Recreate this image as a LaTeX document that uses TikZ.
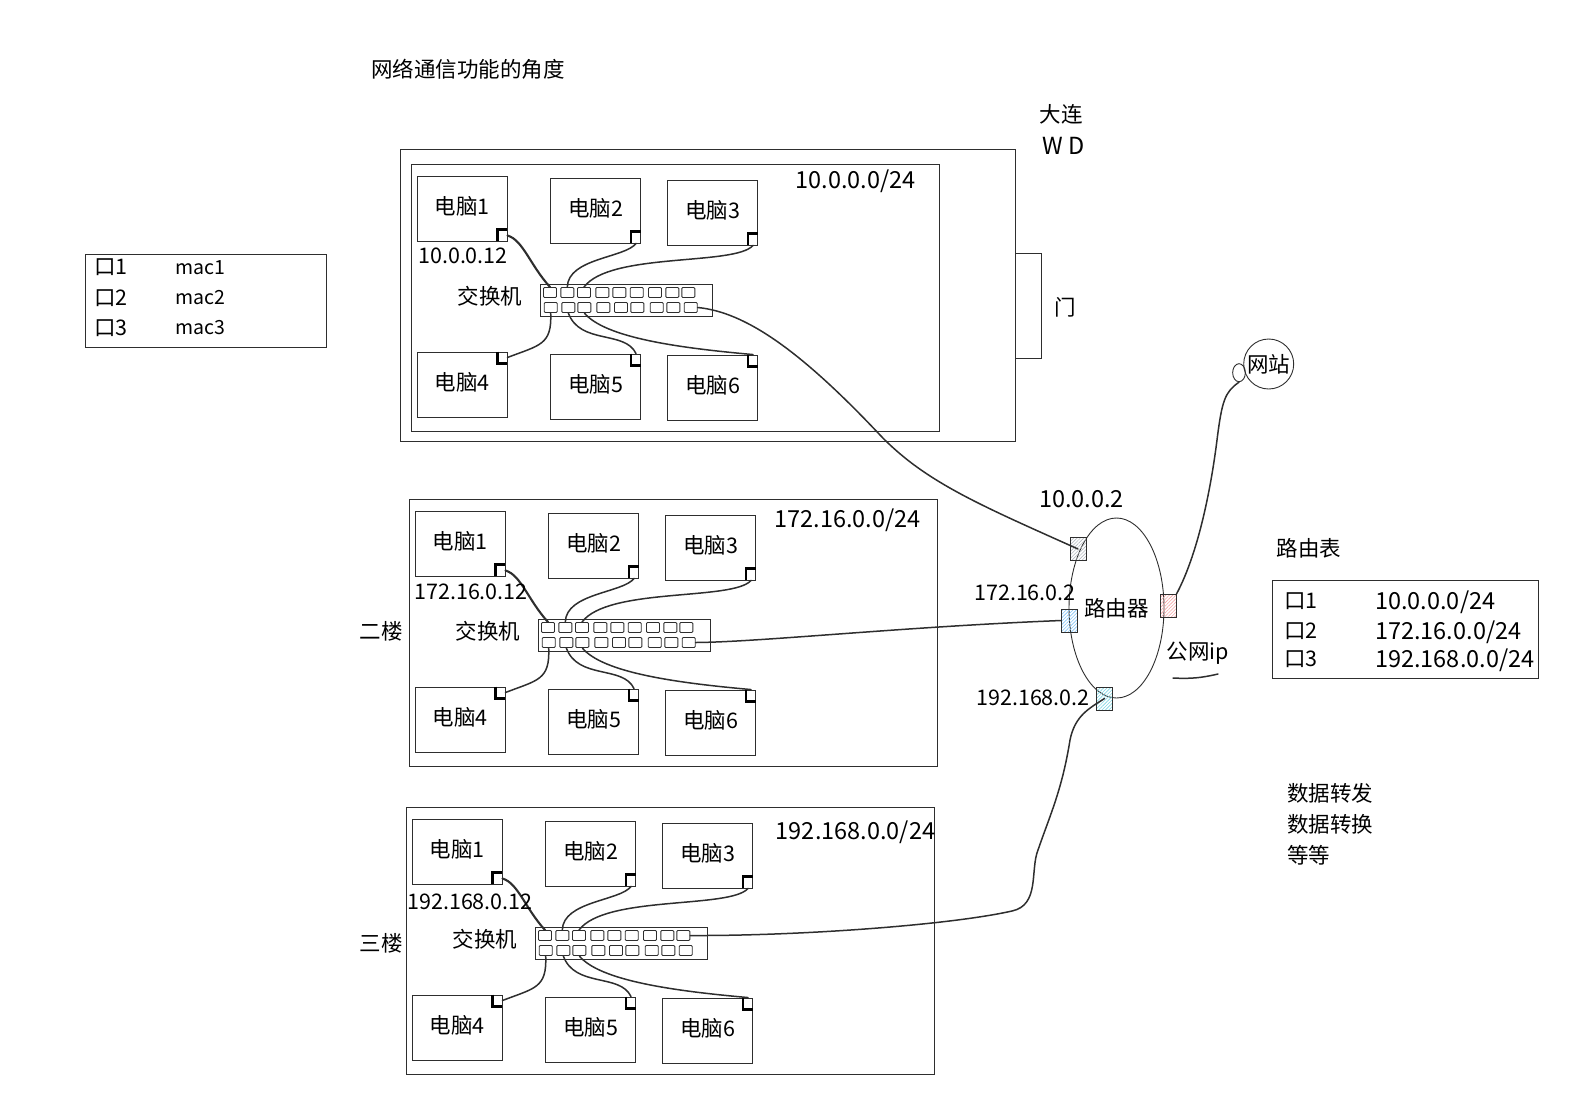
\documentclass[tikz,border=0pt]{standalone}
\usepackage{fontspec}
\setmainfont{Noto Sans CJK SC}
\usetikzlibrary{
    shapes.geometric,
    patterns.meta,
    positioning,
    calc
}
\definecolor{inkgray}{HTML}{2E2E2E}
\definecolor{hatchgray}{HTML}{B4BAC0}
\definecolor{hatchblue}{HTML}{84C4F5}
\definecolor{hatchred}{HTML}{F5A3A3}
\definecolor{hatchcyan}{HTML}{7FD6E4}

\begin{document}
\begin{tikzpicture}[
    x=1pt, y=-1pt,
    txt/.style={font=\fontsize{21.5}{25}\selectfont, text=black, inner sep=0pt},
    small/.style={font=\fontsize{19.5}{23}\selectfont, text=black, inner sep=0pt},
    wide/.style={font=\fontsize{23.5}{28}\selectfont, text=black, inner sep=0pt},
    box/.style={rectangle, draw=inkgray, line width=0.9pt, inner sep=0pt},
    pc/.style={box, txt, text depth=6pt, minimum width=90pt, minimum height=65pt},
    port/.style={box, minimum width=9pt, minimum height=11pt},
    slot/.style={box, rounded corners=1pt, minimum width=13pt, minimum height=10pt},
    hatch/.style={box, minimum width=16pt, minimum height=23pt,
        pattern={Lines[angle=45,distance=2.4pt,line width=0.6pt]}, pattern color=#1},
    wire/.style={draw=inkgray, line width=1.5pt, line cap=round},
    edge/.style={draw=black, line width=2.6pt}
]
    \useasboundingbox (0,0) rectangle (1587,1106);

    % Building
    \node (title) [txt] at (468,69) {网络通信功能的角度};
    \node (outer) [box, minimum width=615pt, minimum height=292.5pt] at (707.5,295.25) {};
    \node (door) [box, minimum width=26pt, minimum height=105pt] at (1028,305.5) {};
    \node (doorlabel) [txt] at (1065,307) {门};
    \node (city) [txt] at (1061,114) {大连};
    \node (room) [wide] at (1064,146) {W D};
    \node (floor2) [txt] at (381,631) {二楼};
    \node (floor3) [txt] at (381,943) {三楼};

    % Floors
    \foreach \f/\sx/\sy in {a/0/0, b/-2/335, c/-5/643} {
    \begin{scope}[shift={(\sx,\sy)}]
        \node (frame\f) [box, minimum width=528pt, minimum height=267pt] at (675,297.5) {};
        \node (pc1\f) [pc] at (462,208.5) {电脑1};
        \node (pc2\f) [pc] at (595.5,210.5) {电脑2};
        \node (pc3\f) [pc] at (712.5,212.5) {电脑3};
        \node (pc4\f) [pc] at (462,384.5) {电脑4};
        \node (pc5\f) [pc] at (595.5,386.5) {电脑5};
        \node (pc6\f) [pc] at (712.5,387.5) {电脑6};
        \node (swlabel\f) [txt] at (490,296) {交换机};
        \node (sw\f) [box, minimum width=172pt, minimum height=32pt] at (626,300) {};

        % Switch slots
        \foreach \x [count=\i] in {550,567.3,584,602.3,619.3,636.7,655,672.3,688.3}
            \node (up\i\f) [slot] at (\x,292.5) {};
        \foreach \x [count=\i] in {550.7,568.3,584.3,603.3,621,637.3,656.7,673.3,690.7}
            \node (lo\i\f) [slot] at (\x,307.5) {};

        % Ports of the computers
        \foreach \n in {1,2,3} {
            \node (port\n\f) [port, anchor=south east] at (pc\n\f.south east) {};
            \draw [edge] (port\n\f.south west) |- (port\n\f.north east);
        }
        \foreach \n in {4,5,6} {
            \node (port\n\f) [port, anchor=north east] at (pc\n\f.north east) {};
            \draw [edge] (port\n\f.north west) |- (port\n\f.south east);
        }

        % Cables
        \draw [wire, line width=2.1pt] (port1\f.east) .. controls (523,240) and (530,265) .. (up1\f.north);
        \draw [wire] (port2\f.south) .. controls (625,258) and (568,258) .. (up2\f.north);
        \draw [wire] (port3\f.south) .. controls (735,266) and (610,252) .. (up3\f.north);
        \draw [wire] (lo1\f.south) .. controls (552,345) and (540,345) .. (port4\f.east);
        \draw [wire] (lo2\f.south) .. controls (580,345) and (625,330) .. (port5\f.north);
        \draw [wire] (lo3\f.south) .. controls (605,338) and (680,348) .. (port6\f.north);
    \end{scope}
    }

    % Addresses
    \node (ip1) [txt] at (463,256) {10.0.0.12};
    \node (ip2) [txt] at (471,592) {172.16.0.12};
    \node (ip3) [txt] at (470,902) {192.168.0.12};
    \node (net1) [wide] at (855.5,181) {10.0.0.0/24};
    \node (net2) [wide] at (847.5,520) {172.16.0.0/24};
    \node (net3) [wide] at (855.5,832) {192.168.0.0/24};

    % Router
    \node (router) [box, txt, ellipse, minimum width=95pt, minimum height=180pt] at (1116.5,608) {路由器};
    \node (rgray) [hatch=hatchgray] at (1078,549) {};
    \node (rblue) [hatch=hatchblue] at (1069.5,620.5) {};
    \node (rred) [hatch=hatchred] at (1168,606) {};
    \node (rcyan) [hatch=hatchcyan] at (1104.5,698.5) {};
    \node (gw1) [wide] at (1081.5,499) {10.0.0.2};
    \node (gw2) [txt] at (1025,593) {172.16.0.2};
    \node (gw3) [txt] at (1033,698) {192.168.0.2};
    \node (pubip) [txt] at (1198,653) {公网ip};
    \coordinate (ulstart) at (1173,678);
    \coordinate (ulend) at (1218,674);
    \draw [wire] (ulstart) to [bend right=8] (ulend);

    % Website
    \node (web) [box, txt, circle, minimum size=50pt] at (1268.7,364) {网站};
    \node (webport) [box, ellipse, minimum width=12.7pt, minimum height=18pt] at (1239,372.7) {};

    % Uplinks
    \draw [wire] (lo9a.east) .. controls (745,312) and (800,350) .. (880,435)
        .. controls (925,482) and (980,505) .. (rgray.center);
    \draw [wire] (lo9b.east) .. controls (760,642) and (900,627) .. (rblue.west);
    \draw [wire] (up9c.east) .. controls (800,936) and (950,925) .. (1012,911)
        .. controls (1040,905) and (1030,870) .. (1038,850)
        .. controls (1050,815) and (1062,790) .. (1070,740)
        .. controls (1075,715) and (1090,708) .. (rcyan.center);
    \draw [wire] (rred.north east) .. controls (1200,550) and (1212,480) .. (1217,440)
        .. controls (1222,400) and (1225,392) .. (webport.south);

    % Tables
    \node (mactable) [box, minimum width=241pt, minimum height=93pt] at (205.5,300.5) {};
    \node (mp1) [txt, anchor=west] at (94,267) {口1};
    \node (mp2) [txt, anchor=west] at (94,298) {口2};
    \node (mp3) [txt, anchor=west] at (94,328) {口3};
    \node (mac1) [small, anchor=west] at (175,268) {mac1};
    \node (mac2) [small, anchor=west] at (175,298) {mac2};
    \node (mac3) [small, anchor=west] at (175,328) {mac3};

    \node (routetitle) [txt] at (1309,548) {路由表};
    \node (routetable) [box, minimum width=266pt, minimum height=98pt] at (1405,629) {};
    \node (rp1) [txt, anchor=west] at (1284,601) {口1};
    \node (rp2) [txt, anchor=west] at (1284,631) {口2};
    \node (rp3) [txt, anchor=west] at (1284,659) {口3};
    \node (rn1) [wide, anchor=west] at (1375,602) {10.0.0.0/24};
    \node (rn2) [wide, anchor=west] at (1375,632) {172.16.0.0/24};
    \node (rn3) [wide, anchor=west] at (1375,660) {192.168.0.0/24};

    % Notes
    \node (note1) [txt, anchor=west] at (1287,793) {数据转发};
    \node (note2) [txt, anchor=west] at (1287,824) {数据转换};
    \node (note3) [txt, anchor=west] at (1287,855) {等等};

\end{tikzpicture}
\end{document}
